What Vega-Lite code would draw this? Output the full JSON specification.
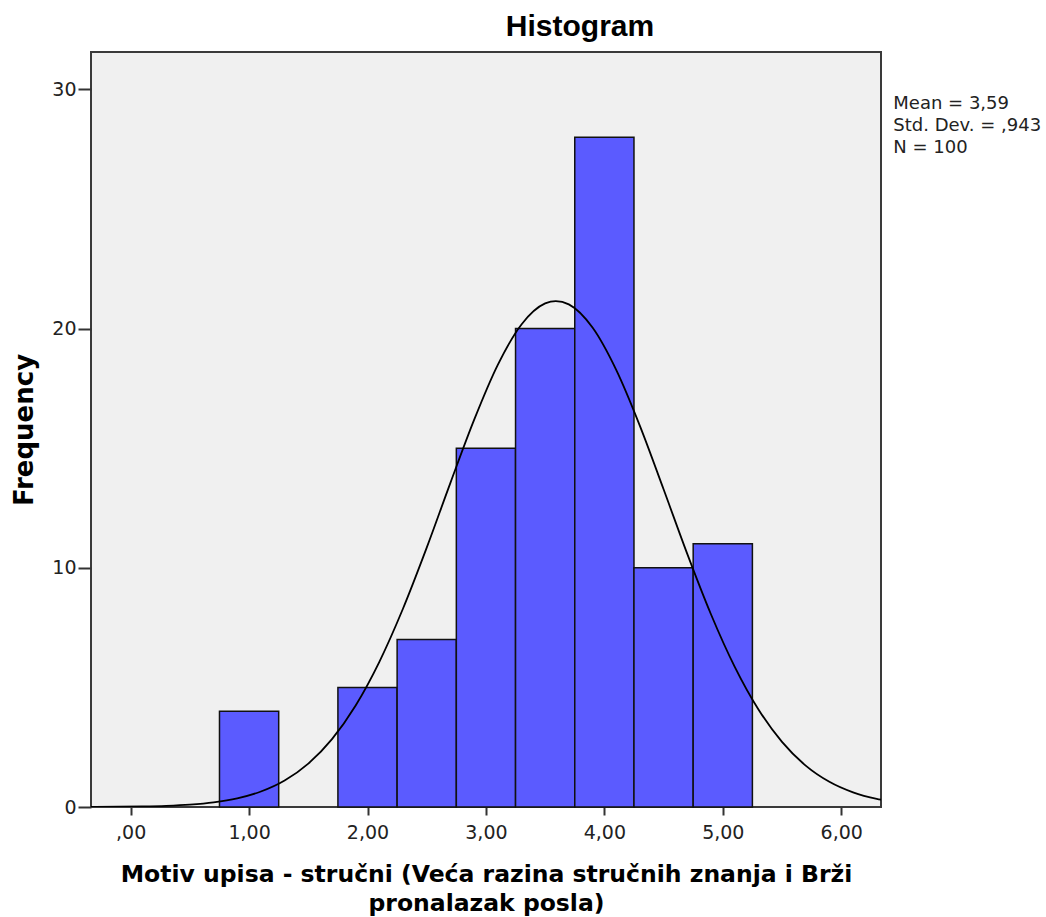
{
  "$schema": "https://vega.github.io/schema/vega-lite/v6.json",
  "width": 790,
  "height": 755,
  "autosize": {"type": "none"},
  "padding": {"left": 91, "top": 52, "right": 165, "bottom": 110},
  "background": "white",
  "title": {"text": "Histogram", "font": "Liberation Sans", "fontSize": 30, "fontWeight": "bold", "color": "black", "offset": 10, "anchor": "middle", "frame": "group", "dx": 94},
  "config": {
    "view": {"fill": "#f0f0f0", "stroke": "#3a3a3a", "strokeWidth": 2},
    "axis": {"grid": false, "domain": false, "labelFont": "DejaVu Sans", "labelFontSize": 19, "labelColor": "#222", "tickColor": "#333", "tickWidth": 2, "titleFont": "DejaVu Sans", "titleFontWeight": "bold", "titleColor": "black"}
  },
  "datasets": {
    "bins": [
      {"lo": 0.75, "hi": 1.25, "count": 4},
      {"lo": 1.75, "hi": 2.25, "count": 5},
      {"lo": 2.25, "hi": 2.75, "count": 7},
      {"lo": 2.75, "hi": 3.25, "count": 15},
      {"lo": 3.25, "hi": 3.75, "count": 20},
      {"lo": 3.75, "hi": 4.25, "count": 28},
      {"lo": 4.25, "hi": 4.75, "count": 10},
      {"lo": 4.75, "hi": 5.25, "count": 11}
    ],
    "curve": [
      {"x": -0.4, "f": 0.0025},
      {"x": -0.3, "f": 0.0043},
      {"x": -0.1, "f": 0.010},
      {"x": 0.1, "f": 0.0224},
      {"x": 0.3, "f": 0.048},
      {"x": 0.5, "f": 0.0986},
      {"x": 0.7, "f": 0.193},
      {"x": 0.9, "f": 0.362},
      {"x": 1.1, "f": 0.648},
      {"x": 1.3, "f": 1.108},
      {"x": 1.5, "f": 1.814},
      {"x": 1.7, "f": 2.839},
      {"x": 1.9, "f": 4.245},
      {"x": 2.1, "f": 6.07},
      {"x": 2.3, "f": 8.297},
      {"x": 2.5, "f": 10.84},
      {"x": 2.7, "f": 13.55},
      {"x": 2.9, "f": 16.18},
      {"x": 3.1, "f": 18.48},
      {"x": 3.3, "f": 20.17},
      {"x": 3.5, "f": 21.05},
      {"x": 3.59, "f": 21.15},
      {"x": 3.7, "f": 21.01},
      {"x": 3.9, "f": 20.04},
      {"x": 4.1, "f": 18.27},
      {"x": 4.3, "f": 15.93},
      {"x": 4.5, "f": 13.28},
      {"x": 4.7, "f": 10.58},
      {"x": 4.9, "f": 8.058},
      {"x": 5.1, "f": 5.869},
      {"x": 5.3, "f": 4.086},
      {"x": 5.5, "f": 2.72},
      {"x": 5.7, "f": 1.73},
      {"x": 5.9, "f": 1.053},
      {"x": 6.1, "f": 0.612},
      {"x": 6.3, "f": 0.34},
      {"x": 6.4, "f": 0.249}
    ]
  },
  "layer": [
    {
      "data": {"name": "bins"},
      "mark": {"type": "rect", "fill": "#5b5bff", "stroke": "#111", "strokeWidth": 1.5},
      "encoding": {
        "x": {
          "field": "lo", "type": "quantitative",
          "scale": {"domain": [-0.335, 6.336], "nice": false, "zero": false},
          "axis": {
            "values": [0, 1, 2, 3, 4, 5, 6],
            "labelExpr": "datum.value == 0 ? ',00' : replace(format(datum.value, '.2f'), '.', ',')",
            "tickSize": 8, "labelPadding": 8,
            "title": ["Motiv upisa - stručni (Veća razina stručnih znanja i Brži", "pronalazak posla)"],
            "titleFontSize": 23.5, "titlePadding": 20, "titleLineHeight": 29
          }
        },
        "x2": {"field": "hi"},
        "y": {
          "field": "count", "type": "quantitative",
          "scale": {"domain": [0, 31.56], "nice": false},
          "axis": {"values": [0, 10, 20, 30], "tickSize": 13, "labelPadding": 2, "title": "Frequency", "titleFontSize": 26, "titlePadding": 14}
        },
        "y2": {"datum": 0}
      }
    },
    {
      "data": {"name": "curve"},
      "mark": {"type": "line", "color": "black", "strokeWidth": 1.8, "interpolate": "monotone", "clip": true},
      "encoding": {
        "x": {"field": "x", "type": "quantitative"},
        "y": {"field": "f", "type": "quantitative"}
      }
    },
    {
      "data": {"values": [{"stats": "Mean = 3,59\nStd. Dev. = ,943\nN = 100"}]},
      "mark": {"type": "text", "align": "left", "baseline": "top", "lineBreak": "\n", "lineHeight": 22, "font": "DejaVu Sans", "fontSize": 18, "color": "#222"},
      "encoding": {
        "x": {"datum": 6.44},
        "y": {"datum": 29.75},
        "text": {"field": "stats"}
      }
    }
  ]
}
